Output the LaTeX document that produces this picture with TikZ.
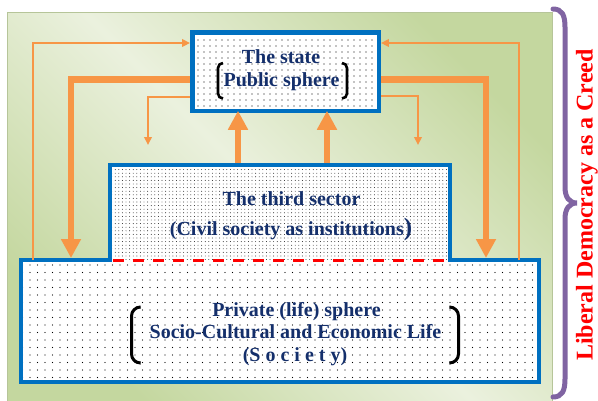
\documentclass[tikz,border=0pt]{standalone}
\usepackage{fontspec}
\setmainfont{Liberation Serif}
\usetikzlibrary{arrows.meta,patterns.meta,shadings}
\definecolor{bgdark}{HTML}{C4D79F}
\definecolor{bglight}{HTML}{EBF1DE}
\definecolor{boxblue}{HTML}{0070C0}
\definecolor{arrorange}{HTML}{F79646}
\definecolor{navytext}{HTML}{142F6B}
\definecolor{bracepurple}{HTML}{8064A2}
\definecolor{creedred}{HTML}{FF0000}
\begin{document}
\begin{tikzpicture}[x=1pt,y=-1pt,
  panel/.style={draw=bgdark!80!gray, line width=0.6pt, top color=bgdark, bottom color=bgdark, middle color=bglight, shading angle=-45},
  areabox/.style={draw=none, inner sep=0pt, outer sep=0pt, preaction={fill=white}},
  outline/.style={draw=boxblue, line width=4.5pt, line join=miter},
  lbl/.style={text=navytext, font=\bfseries\fontsize{20pt}{22pt}\selectfont, inner sep=0pt, anchor=base},
  thinarr/.style={draw=arrorange, line width=2pt, -{Triangle[length=8pt,width=7.5pt]}},
  thickarr/.style={draw=arrorange, line width=6.5pt, -{Triangle[length=19pt,width=19pt]}},
  bracket/.style={draw=black, line width=2.6pt, rounded corners=5pt},
  bigbracket/.style={draw=black, line width=3pt, rounded corners=9pt},
  bracestyle/.style={draw=bracepurple, line width=5pt, line cap=round},
  creed/.style={text=creedred, font=\bfseries\fontsize{24pt}{26pt}\selectfont, inner sep=0pt, rotate=90, anchor=base}
]
\useasboundingbox (0,0) rectangle (598,400);
% background panel
\shade[panel] (7,12) rectangle (552,403);

% areas
\node[areabox, minimum width=340pt, minimum height=95pt,
      pattern={Dots[distance=3.6pt,radius=0.45pt]}, pattern color=black] (third) at (280,212.5) {};
\node[areabox, minimum width=518pt, minimum height=122pt,
      pattern={Dots[distance=7.5pt,radius=0.55pt]}, pattern color=black] (private) at (280,321) {};
\node[areabox, minimum width=186.5pt, minimum height=78.5pt,
      pattern={Dots[distance=6pt,radius=0.55pt]}, pattern color=black] (state) at (285.5,71.5) {};

% outlines
\draw[outline] (state.north west) rectangle (state.south east);
\draw[outline] (private.north west) -- (third.south west) -- (third.north west) -- (third.north east)
  -- (third.south east) -- (private.north east) -- (private.south east) -- (private.south west) -- cycle;
\draw[draw=creedred, line width=3pt, dash pattern=on 11pt off 9pt, shorten <=3pt, shorten >=3pt]
  (third.south west) -- (third.south east);

% arrows
\coordinate (c1) at (33,43);
\coordinate (c2) at (519,43);
\coordinate (c3) at (71,79.5);
\coordinate (c4) at (486,79.5);
\coordinate (c5) at (148,97);
\coordinate (e5) at (148,145);
\coordinate (c6) at (418,96);
\coordinate (e6) at (418,145);
\coordinate (u1) at (238,0);
\coordinate (u2) at (327,0);

\draw[thinarr, shorten >=2.2pt] (c1 |- private.north) -- (c1) -- (c1 -| state.west);
\draw[thinarr, shorten >=2.2pt] (c2 |- private.north) -- (c2) -- (c2 -| state.east);
\draw[thickarr, shorten <=2.2pt, shorten >=2pt] (c3 -| state.west) -- (c3) -- (c3 |- private.north);
\draw[thickarr, shorten <=2.2pt, shorten >=2pt] (c4 -| state.east) -- (c4) -- (c4 |- private.north);
\draw[thinarr, shorten <=2.2pt] (c5 -| state.west) -- (c5) -- (e5);
\draw[thinarr, shorten <=2.2pt] (c6 -| state.east) -- (c6) -- (e6);
\draw[thickarr, shorten <=2.2pt] (u1 |- third.north) -- (u1 |- state.south);
\draw[thickarr, shorten <=2.2pt] (u2 |- third.north) -- (u2 |- state.south);

% texts
\node[lbl] (st1) at (281,63) {The state};
\node[lbl] (st2) at (281.5,86) {Public sphere};
\node[lbl] (th1) at (291.5,205) {The third sector};
\node[lbl] (th2) at (291,235) {(Civil society as institutions{\fontsize{25pt}{26pt}\selectfont)}};
\node[lbl] (pr1) at (296.5,316) {Private (life) sphere};
\node[lbl] (pr2) at (295.5,338) {Socio-Cultural and Economic Life};
\node[lbl] (pr3) at (295,361) {(S o c i e t y)};

% brackets
\draw[bracket] (223,63) -- (218,63) -- (218,98.5) -- (223,98.5);
\draw[bracket] (342,63) -- (347,63) -- (347,98.5) -- (342,98.5);
\draw[bigbracket] (140,307) -- (131.5,307) -- (131.5,363) -- (140,363);
\draw[bigbracket] (450,307) -- (458.5,307) -- (458.5,363) -- (450,363);

% brace and title
\draw[bracestyle] (553,9) .. controls (562,9) and (565,15) .. (565,27) -- (565,187)
  .. controls (565,197) and (569,203) .. (577,203)
  .. controls (569,203) and (565,209) .. (565,219) -- (565,379)
  .. controls (565,391) and (562,397) .. (553,397);
\node[creed] (title) at (592.5,205) {Liberal Democracy as a Creed};
\end{tikzpicture}
\end{document}
